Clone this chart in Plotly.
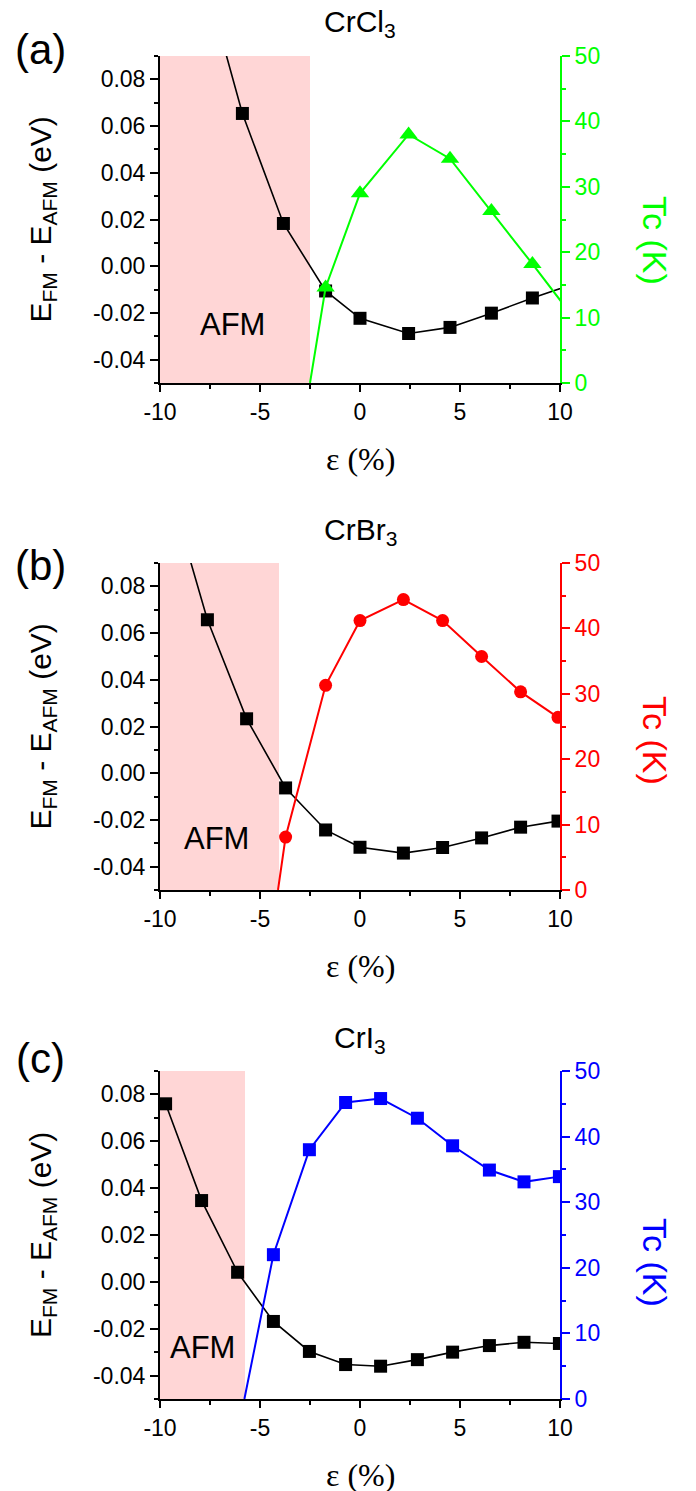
import plotly.graph_objects as go

W, H = 696, 1491
PAGE_OFFSET = 8  # default body margin of the html page

# ---------------- data ----------------
titles = ["CrCl<sub>3</sub>", "CrBr<sub>3</sub>", "CrI<sub>3</sub>"]
panel_tags = ["(a)", "(b)", "(c)"]
tc_colors = ["#00ff00", "#ff0000", "#0000ff"]
tc_symbols = ["triangle-up", "circle", "square"]

# (a) CrCl3
a_strain = [-5.88, -3.83, -1.72, 0.0, 2.43, 4.5, 6.57, 8.62]
a_dE = [0.0654, 0.0183, -0.0106, -0.0223, -0.0288, -0.0262, -0.0201, -0.0136]
a_dE_lead = ([-7.9], [0.128])
a_dE_trail = ([10.7], [-0.0076])
a_tc_strain = [-1.72, 0.0, 2.43, 4.5, 6.57, 8.62]
a_tc = [14.6, 29.0, 38.0, 34.3, 26.3, 18.2]
a_tc_lead = ([-2.5], [0.0])
a_tc_trail = ([10.7], [9.9])
a_afm_edge = -2.5

# (b) CrBr3
b_strain = [-7.63, -5.67, -3.72, -1.72, 0.0, 2.17, 4.13, 6.08, 8.03, 9.9]
b_dE = [0.0657, 0.0233, -0.0063, -0.0243, -0.0317, -0.0342, -0.0318, -0.0277, -0.0231, -0.0205]
b_dE_lead = ([-9.6], [0.124])
b_dE_trail = ([], [])
b_tc_strain = [-3.72, -1.72, 0.0, 2.17, 4.13, 6.08, 8.03, 9.9]
b_tc = [8.1, 31.3, 41.2, 44.4, 41.2, 35.7, 30.3, 26.4]
b_tc_lead = ([-4.1], [0.0])
b_tc_trail = ([], [])
b_afm_edge = -4.05

# (c) CrI3
c_strain = [-9.72, -7.92, -6.12, -4.33, -2.53, -0.72, 1.03, 2.87, 4.63, 6.47, 8.2, 9.97]
c_dE = [0.076, 0.0347, 0.0041, -0.0169, -0.0297, -0.0353, -0.036, -0.0332, -0.030, -0.0272, -0.0258, -0.0263]
c_dE_lead = ([], [])
c_dE_trail = ([], [])
c_tc_strain = [-4.33, -2.53, -0.72, 1.03, 2.87, 4.63, 6.47, 8.2, 9.97]
c_tc = [22.0, 38.0, 45.2, 45.8, 42.8, 38.6, 34.9, 33.1, 33.9]
c_tc_lead = ([-5.78], [0.0])
c_tc_trail = ([], [])
c_afm_edge = -5.75

x_ticks = [-10, -5, 0, 5, 10]
x_ticktext = ["-10", "-5", "0", "5", "10"]
e_ticks = [-0.04, -0.02, 0.0, 0.02, 0.04, 0.06, 0.08]
e_ticktext = ["-0.04", "-0.02", "0.00", "0.02", "0.04", "0.06", "0.08"]
tc_ticks = [0, 10, 20, 30, 40, 50]
tc_ticktext = ["0", "10", "20", "30", "40", "50"]

afm_text_pos = [(-6.4, -0.0248), (-7.2, -0.028), (-7.9, -0.028)]

panels = [
    (a_strain, a_dE, a_dE_lead, a_dE_trail, a_tc_strain, a_tc, a_tc_lead, a_tc_trail, a_afm_edge),
    (b_strain, b_dE, b_dE_lead, b_dE_trail, b_tc_strain, b_tc, b_tc_lead, b_tc_trail, b_afm_edge),
    (c_strain, c_dE, c_dE_lead, c_dE_trail, c_tc_strain, c_tc, c_tc_lead, c_tc_trail, c_afm_edge),
]

# ---------------- layout geometry (screen pixels) ----------------
plot_left, plot_right = 160, 560
plot_tops = [56, 563, 1071]
plot_bottoms = [383, 890, 1399]
tag_centers_y = [50, 565, 1058]
tc_label_center_y = [240, 740, 1262]

def px(xp):
    return (xp - PAGE_OFFSET) / W

def py(yp):
    return 1 - (yp - PAGE_OFFSET) / H

FONT = "Liberation Sans, Arial, sans-serif"
SERIF = "Liberation Serif"

fig = go.Figure()
layout = dict(
    width=W, height=H,
    margin=dict(l=0, r=0, t=0, b=0, autoexpand=False),
    paper_bgcolor="white", plot_bgcolor="white",
    showlegend=False,
    font=dict(family=FONT, color="black"),
)
shapes = []
annotations = []

def label(text, x, y, size, color="black", family=FONT, angle=0, xref="paper", yref="paper"):
    return dict(text=text, x=x, y=y, xref=xref, yref=yref, showarrow=False,
                xanchor="center", yanchor="middle", textangle=angle,
                font=dict(size=size, family=family, color=color))

for i, (st, dE, dlead, dtrail, tst, tc, tlead, ttrail, edge) in enumerate(panels):
    n = i + 1
    xa = f"x{n*2-1}" if n > 1 else "x"
    yl = f"y{n*2-1}" if n > 1 else "y"
    yr = f"y{n*2}"
    xkey = "xaxis" if n == 1 else f"xaxis{n*2-1}"
    xtopkey = f"xaxis{n*2}"
    ylkey = "yaxis" if n == 1 else f"yaxis{n*2-1}"
    yrkey = f"yaxis{n*2}"
    ydom = [py(plot_bottoms[i]), py(plot_tops[i])]
    xdom = [px(plot_left), px(plot_right)]

    layout[xkey] = dict(
        domain=xdom, anchor=yl, range=[-10, 10],
        tickmode="array", tickvals=x_ticks, ticktext=x_ticktext,
        ticks="outside", ticklen=7, tickwidth=2, tickcolor="black",
        minor=dict(ticks="outside", ticklen=4, tickwidth=2, dtick=2.5, tickcolor="black"),
        showline=True, linecolor="black", linewidth=2,
        showgrid=False, zeroline=False,
        tickfont=dict(size=23, family=FONT, color="black"),
    )
    layout[xtopkey] = dict(
        overlaying=xa, anchor=yl, side="top", range=[-10, 10],
        tickmode="linear", tick0=-10, dtick=2.5,
        ticks="inside", ticklen=5, tickwidth=2, tickcolor="black",
        showticklabels=False, showline=True, linecolor="black", linewidth=2,
        showgrid=False, zeroline=False,
    )
    layout[ylkey] = dict(
        domain=ydom, anchor=xa, range=[-0.05, 0.09],
        tickmode="array", tickvals=e_ticks, ticktext=e_ticktext,
        ticks="outside", ticklen=8, tickwidth=2, tickcolor="black",
        minor=dict(ticks="outside", ticklen=4, tickwidth=2, dtick=0.01, tick0=0, tickcolor="black"),
        showline=True, linecolor="black", linewidth=2,
        showgrid=False, zeroline=False,
        tickfont=dict(size=23, family=FONT, color="black"),
    )
    col = tc_colors[i]
    layout[yrkey] = dict(
        overlaying=yl, anchor=xa, side="right", range=[0, 50],
        tickmode="array", tickvals=tc_ticks, ticktext=tc_ticktext,
        ticks="outside", ticklen=8, tickwidth=2, tickcolor=col,
        minor=dict(ticks="outside", ticklen=4, tickwidth=2, dtick=5, tick0=0, tickcolor=col),
        showline=True, linecolor=col, linewidth=2,
        showgrid=False, zeroline=False,
        tickfont=dict(size=23, family=FONT, color=col),
    )

    # AFM shaded region
    shapes.append(dict(type="rect", xref=xa, yref=f"{yl} domain", x0=-10, x1=edge, y0=0, y1=1,
                       fillcolor="#ffd6d6", line=dict(width=0), layer="below"))

    # energy difference line (with off-plot continuation)
    fig.add_trace(go.Scatter(x=dlead[0] + st + dtrail[0], y=dlead[1] + dE + dtrail[1],
                             mode="lines", line=dict(color="black", width=1.6),
                             xaxis=xa, yaxis=yl, hoverinfo="skip"))
    fig.add_trace(go.Scatter(x=st, y=dE, mode="markers",
                             marker=dict(symbol="square", size=13, color="black"),
                             xaxis=xa, yaxis=yl))
    # Tc line
    fig.add_trace(go.Scatter(x=tlead[0] + tst + ttrail[0], y=tlead[1] + tc + ttrail[1],
                             mode="lines", line=dict(color=col, width=2),
                             xaxis=xa, yaxis=yr, hoverinfo="skip"))
    msize = {"triangle-up": 16, "circle": 13, "square": 13}[tc_symbols[i]]
    fig.add_trace(go.Scatter(x=tst, y=tc, mode="markers",
                             marker=dict(symbol=tc_symbols[i], size=msize, color=col),
                             xaxis=xa, yaxis=yr))

    # texts
    annotations.append(label("AFM", afm_text_pos[i][0], afm_text_pos[i][1], 31, xref=xa, yref=yl))
    annotations.append(label(titles[i], px((plot_left + plot_right) / 2), py(plot_tops[i] - 32), 30))
    annotations.append(label(panel_tags[i], px(40), py(tag_centers_y[i]), 42))
    annotations.append(label("E<sub>FM</sub> - E<sub>AFM</sub> (eV)", px(42),
                             py((plot_tops[i] + plot_bottoms[i]) / 2), 30, angle=-90))
    annotations.append(label("Tc (K)", px(655), py(tc_label_center_y[i]), 34, color=col, angle=90))
    annotations.append(label("\u03b5 (%)", px((plot_left + plot_right) / 2),
                             py(plot_bottoms[i] + 76), 32, family=SERIF))

layout["shapes"] = shapes
layout["annotations"] = annotations
fig.update_layout(**layout)
fig.write_html("out.html")
